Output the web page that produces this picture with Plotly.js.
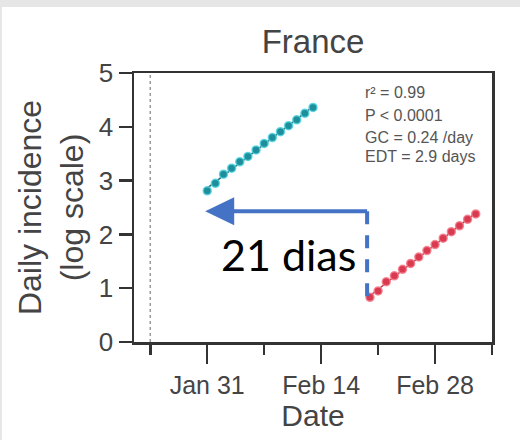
<!DOCTYPE html>
<html>
<head>
<meta charset="utf-8">
<script src="https://cdn.plot.ly/plotly-3.0.1.min.js"></script>
<style>
  html, body { margin: 0; padding: 0; background: #e6e6e6; width: 520px; height: 440px; overflow: hidden; }
  #chart { position: absolute; left: 2px; top: 7px; width: 518px; height: 433px; background: #ffffff; }
</style>
</head>
<body>
<div id="chart"></div>
<script>
// ---- data ----
const chinaDates = ['2020-01-31','2020-02-01','2020-02-02','2020-02-03','2020-02-04','2020-02-05','2020-02-06',
                    '2020-02-07','2020-02-08','2020-02-09','2020-02-10','2020-02-11','2020-02-12','2020-02-13'];
const chinaValues = [2.81, 2.95, 3.12, 3.23, 3.35, 3.45, 3.57, 3.69, 3.80, 3.91, 4.02, 4.13, 4.25, 4.36];

const franceDates = ['2020-02-20','2020-02-21','2020-02-22','2020-02-23','2020-02-24','2020-02-25','2020-02-26',
                     '2020-02-27','2020-02-28','2020-02-29','2020-03-01','2020-03-02','2020-03-03','2020-03-04'];
const franceValues = [0.83, 0.95, 1.12, 1.23, 1.35, 1.46, 1.58, 1.70, 1.81, 1.93, 2.05, 2.16, 2.28, 2.38];

const firstCaseDate = '2020-01-24';
const xRange = ['2020-01-22 00:00', '2020-03-06 00:00'];
const yRange = [0, 5];
const statLines = ['r² = 0.99', 'P < 0.0001', 'GC = 0.24 /day', 'EDT = 2.9 days'];
const shiftLabel = '21 dias';
const arrowFrom = '2020-02-19 15:36';
const arrowTo = '2020-01-30 18:00';
const arrowLevel = 2.43;
const dashBottom = 0.645;

// ---- least-squares fit lines computed from the data ----
function fit(dates, vals) {
  const xs = dates.map(d => new Date(d + 'T00:00:00Z').getTime() / 86400000);
  const n = xs.length;
  const mx = xs.reduce((a, b) => a + b, 0) / n;
  const my = vals.reduce((a, b) => a + b, 0) / n;
  let sxy = 0, sxx = 0;
  for (let i = 0; i < n; i++) { sxy += (xs[i] - mx) * (vals[i] - my); sxx += (xs[i] - mx) ** 2; }
  const b = sxy / sxx, a = my - b * mx;
  return { x: [dates[0], dates[n - 1]], y: [a + b * xs[0], a + b * xs[n - 1]] };
}
const chinaFit = fit(chinaDates, chinaValues);
const franceFit = fit(franceDates, franceValues);

const traces = [
  { x: chinaFit.x, y: chinaFit.y, mode: 'lines', line: { color: '#2b6f78', width: 1.5 }, hoverinfo: 'skip', showlegend: false },
  { x: chinaDates, y: chinaValues, mode: 'markers',
    marker: { size: 8, color: '#1e8f9a', line: { color: 'rgba(80,210,225,0.85)', width: 1.5 } }, showlegend: false },
  { x: franceFit.x, y: franceFit.y, mode: 'lines', line: { color: '#c23a50', width: 1.5 }, hoverinfo: 'skip', showlegend: false },
  { x: franceDates, y: franceValues, mode: 'markers',
    marker: { size: 8, color: '#d93a50', line: { color: 'rgba(245,125,140,0.85)', width: 1.5 } }, showlegend: false }
];

const statY = [0.929, 0.843, 0.762, 0.688];
const annotations = statLines.map((t, i) => ({
  text: t, xref: 'paper', yref: 'paper', x: 0.64, y: statY[i], xanchor: 'left', yanchor: 'middle',
  showarrow: false, font: { family: 'Liberation Sans, Arial, sans-serif', size: 16, color: '#555' }
}));
annotations.push({
  text: shiftLabel, xref: 'x', yref: 'y', x: '2020-02-09 23:00', y: 1.62, xanchor: 'center', yanchor: 'middle',
  showarrow: false, font: { family: 'Lato, sans-serif', size: 43, color: '#000' }
});

const blue = '#4472C4';
const layout = {
  width: 518, height: 433,
  margin: { l: 132, r: 28, t: 66, b: 98 },
  paper_bgcolor: '#ffffff', plot_bgcolor: '#ffffff',
  title: { text: 'France', x: 0.5, xref: 'paper', y: 0.92, yref: 'container', yanchor: 'middle',
           font: { family: 'Liberation Sans, Arial, sans-serif', size: 33, color: '#444' } },
  xaxis: {
    type: 'date', range: xRange, showgrid: false, zeroline: false,
    showline: true, linecolor: '#333', linewidth: 2.5, mirror: true,
    ticks: 'outside', ticklen: 19, tickwidth: 2.5, tickcolor: '#333',
    tick0: '2020-01-31', dtick: 14 * 86400000, tickformat: '%b %-d',
    minor: { ticks: 'outside', ticklen: 10, tickwidth: 2.5, tickcolor: '#333', tick0: firstCaseDate, dtick: 7 * 86400000, showgrid: false },
    tickfont: { family: 'Liberation Sans, Arial, sans-serif', size: 25, color: '#444' },
    title: { text: 'Date', standoff: 6, font: { family: 'Liberation Sans, Arial, sans-serif', size: 30, color: '#444' } }
  },
  yaxis: {
    range: yRange, showgrid: false, zeroline: false,
    showline: true, linecolor: '#333', linewidth: 2.5, mirror: true,
    ticks: 'outside', ticklen: 13, tickwidth: 2.5, tickcolor: '#333', dtick: 1,
    tickfont: { family: 'Liberation Sans, Arial, sans-serif', size: 26, color: '#444' },
    title: { text: 'Daily incidence<br>(log scale)', standoff: 6, font: { family: 'Liberation Sans, Arial, sans-serif', size: 32, color: '#444' } }
  },
  shapes: [
    { type: 'line', xref: 'x', yref: 'paper', x0: firstCaseDate, x1: firstCaseDate, y0: 0, y1: 1,
      line: { color: '#9a9a9a', width: 1.5, dash: 'dot' }, layer: 'below' },
    { type: 'line', xref: 'x', yref: 'y', x0: arrowFrom, x1: '2020-01-31 12:00', y0: arrowLevel, y1: arrowLevel,
      line: { color: blue, width: 4 } },
    { type: 'line', xref: 'x', yref: 'y', x0: arrowFrom, x1: arrowFrom, y0: arrowLevel, y1: dashBottom,
      line: { color: blue, width: 4, dash: '13px,11px' } },
    { type: 'path', xref: 'x', yref: 'y', xsizemode: 'pixel', ysizemode: 'pixel',
      xanchor: arrowTo, yanchor: arrowLevel, path: 'M0,0 L29,14 L29,-14 Z',
      fillcolor: blue, line: { width: 0 } }
  ],
  annotations: annotations
};

Plotly.newPlot('chart', traces, layout, { staticPlot: true, displayModeBar: false });
</script>
</body>
</html>
